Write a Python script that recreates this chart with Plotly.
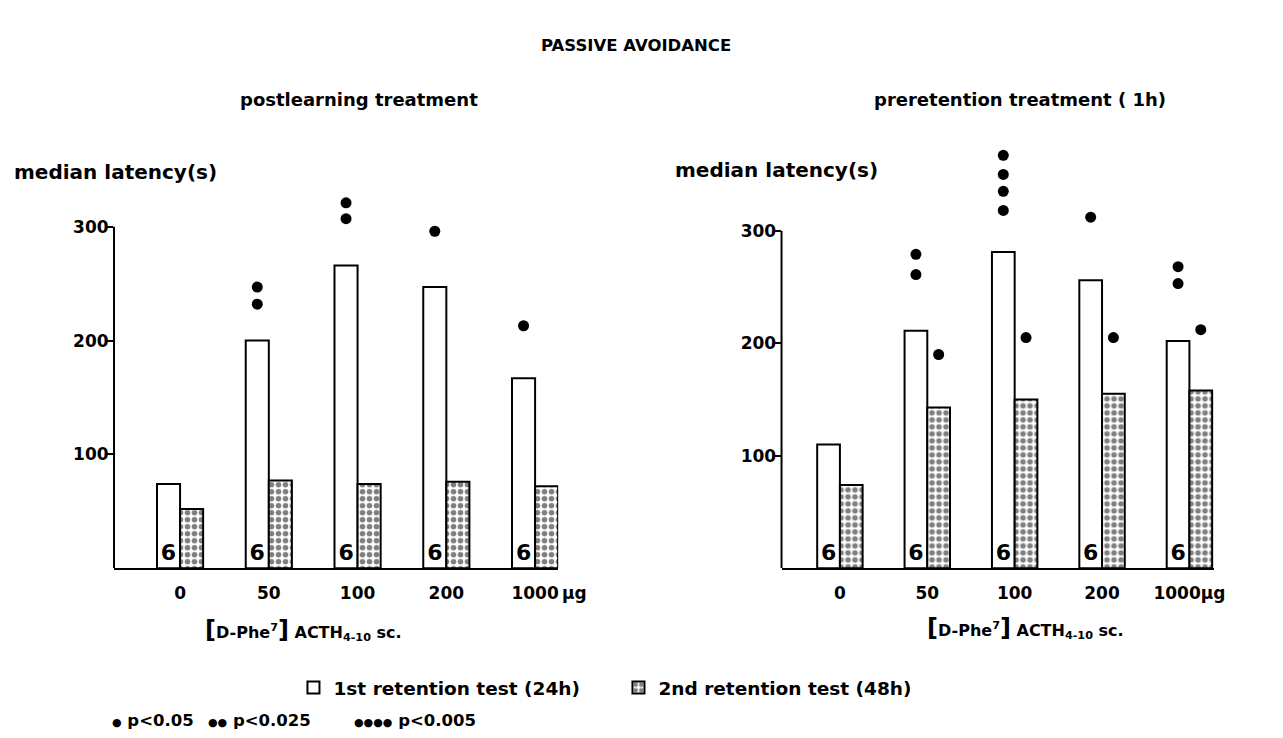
import plotly.graph_objects as go

# ---------------- data ----------------
doses = ["0", "50", "100", "200", "1000"]
n_animals = [6, 6, 6, 6, 6]

left_first = [74, 200, 266, 247, 167]     # postlearning, 1st retention test (24h)
left_second = [52, 77, 74, 76, 72]        # postlearning, 2nd retention test (48h)
right_first = [110, 211, 281, 256, 202]   # preretention, 1st retention test (24h)
right_second = [74, 143, 150, 155, 158]   # preretention, 2nd retention test (48h)

# significance marks (y-values of the dots above each bar)
left_first_sig = [[], [232, 247], [307, 321], [296], [213]]
left_second_sig = [[], [], [], [], []]
right_first_sig = [[], [261, 279], [318, 335, 350, 367], [312], [253, 268]]
right_second_sig = [[], [190], [205], [205], [212]]

sig_levels = ["p<0.05", "p<0.025", "p<0.005"]
sig_dots = [1, 2, 4]

yticks = [100, 200, 300]

# ---------------- figure ----------------
W, H = 1283, 738
FONT = "DejaVu Sans"
BW = 0.26
YAXIS_TOP = 300      # the drawn axis line ends here
YMAX = 390           # headroom for significance dots

def px(x):
    return x / W

def py(y):
    return (H - y) / H

fig = go.Figure()
idx = list(range(len(doses)))


def add_panel(first, second, s1, s2, xa, ya, showlegend):
    fig.add_trace(go.Bar(
        x=idx, y=first, width=BW, offset=-BW,
        marker=dict(color="white", line=dict(color="black", width=2)),
        text=[str(n) for n in n_animals], textposition="inside",
        insidetextanchor="start", textangle=0,
        textfont=dict(size=22, color="black", family=FONT),
        name="1st retention test (24h)", legendgroup="first",
        showlegend=showlegend, xaxis=xa, yaxis=ya, hoverinfo="skip",
    ))
    fig.add_trace(go.Bar(
        x=idx, y=second, width=BW, offset=0,
        marker=dict(color="white", line=dict(color="black", width=2),
                    pattern=dict(shape=".", fgcolor="black", bgcolor="white",
                                 size=7, solidity=0.5)),
        name="2nd retention test (48h)", legendgroup="second",
        showlegend=showlegend, xaxis=xa, yaxis=ya, hoverinfo="skip",
    ))
    dx, dy = [], []
    for i, marks in enumerate(s1):
        for m in marks:
            dx.append(i - BW / 2)
            dy.append(m)
    for i, marks in enumerate(s2):
        for m in marks:
            dx.append(i + BW / 2)
            dy.append(m)
    fig.add_trace(go.Scatter(
        x=dx, y=dy, mode="markers",
        marker=dict(color="black", size=11),
        cliponaxis=False, showlegend=False, xaxis=xa, yaxis=ya, hoverinfo="skip",
    ))
    # y axis line only up to 300, like the original
    fig.add_shape(type="line", xref=f"{xa} domain", yref=ya, x0=0, x1=0,
                  y0=0, y1=YAXIS_TOP, line=dict(color="black", width=2))


add_panel(left_first, left_second, left_first_sig, left_second_sig, "x", "y", True)
add_panel(right_first, right_second, right_first_sig, right_second_sig, "x2", "y2", False)

tickfont = dict(family=FONT, size=17, color="black", weight="bold")

common_x = dict(showline=True, linecolor="black", linewidth=2, ticks="",
                showgrid=False, zeroline=False, tickvals=idx,
                tickfont=tickfont, ticklabelstandoff=8, fixedrange=True)
common_y = dict(showline=False, ticks="outside",
                ticklen=6, tickwidth=2, tickcolor="black", tickvals=yticks,
                showgrid=False, zeroline=False, range=[0, YMAX],
                tickfont=tickfont, ticklabelstandoff=-5, fixedrange=True)

# pixel geometry of the two value axes (0 and 300 positions)
L0, L300 = 568.3, 226.7
R0, R300 = 568.3, 230.7
l_top = L0 - YMAX * (L0 - L300) / YAXIS_TOP
r_top = R0 - YMAX * (R0 - R300) / YAXIS_TOP

fig.update_layout(
    width=W, height=H,
    margin=dict(l=0, r=0, t=0, b=0),
    paper_bgcolor="white", plot_bgcolor="white",
    barmode="overlay",
    font=dict(family=FONT, size=18, color="black", weight="bold"),
    xaxis=dict(domain=[px(115), px(563)], range=[-0.744, 4.26], anchor="y",
               ticktext=["0", "50", "100", "200", "1000"], **common_x),
    yaxis=dict(domain=[py(L0), py(l_top)], anchor="x", **common_y),
    xaxis2=dict(domain=[px(788.3), px(1225)], range=[-0.668, 4.287], anchor="y2",
                ticktext=["0", "50", "100", "200", "1000µg"], **common_x),
    yaxis2=dict(domain=[py(R0), py(r_top)], anchor="x2", **common_y),
    legend=dict(orientation="h", x=px(296), y=py(688), xanchor="left",
                yanchor="middle", font=dict(family=FONT, size=18.5, color="black",
                                            weight="bold"),
                bgcolor="rgba(0,0,0,0)", entrywidth=280, entrywidthmode="pixels",
                itemclick=False, itemdoubleclick=False),
    showlegend=True,
)

BR = "<span style='font-size:24px'>%s</span>"
xlabel = (BR % "[") + "D-Phe<sup>7</sup>" + (BR % "]") + " ACTH<sub>4-10</sub> sc."

ann = [
    dict(text="PASSIVE AVOIDANCE", x=px(642), y=py(45), size=16.5),
    dict(text="postlearning treatment", x=px(362), y=py(100), size=18),
    dict(text="preretention treatment ( 1h)", x=px(1029), y=py(100), size=18),
    dict(text="median latency(s)", x=px(12), y=py(172), size=20, xanchor="left"),
    dict(text="median latency(s)", x=px(679), y=py(170), size=20, xanchor="left"),
    dict(text=xlabel, x=px(306), y=py(630), size=16),
    dict(text=xlabel, x=px(1034), y=py(628), size=16),
]
# significance key: one annotation per level
key_x = [111, 208, 355]
for kx, lvl, nd in zip(key_x, sig_levels, sig_dots):
    ann.append(dict(text="<span style='font-size:11px'>" + "●" * nd + "</span> " + lvl,
                    x=px(kx), y=py(720), size=16.5, xanchor="left"))

for a in ann:
    fig.add_annotation(text=a["text"], x=a["x"], y=a["y"], xref="paper", yref="paper",
                       xanchor=a.get("xanchor", "center"), yanchor="middle",
                       showarrow=False,
                       font=dict(family=FONT, size=a["size"], color="black", weight="bold"))

# "µg" unit next to the last dose of the left panel
fig.add_annotation(text="µg", x=4, y=0, xref="x", yref="y", xanchor="left",
                   yanchor="middle", yshift=-25, xshift=25, showarrow=False,
                   font=dict(family=FONT, size=17, color="black", weight="bold"))

fig.write_html(
    "out.html", config={"displayModeBar": False},
    post_script=("document.body.style.margin='0';"
                 "document.body.style.overflow='hidden';"
                 "document.documentElement.style.overflow='hidden';"),
)
